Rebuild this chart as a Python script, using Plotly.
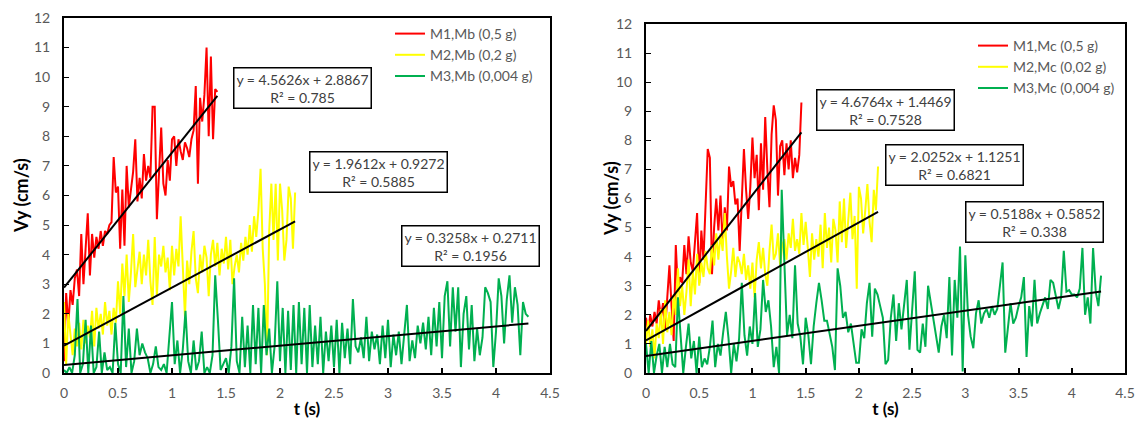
import numpy as np
import plotly.graph_objects as go

# ---------------- data ----------------
DT_RY = 0.02     # sampling step for red / yellow series (s)
DT_G = 0.025     # sampling step for green series (s)

# Left chart (Mb)
mb_m1 = [0.4, 2.7, 1.6, 2.8, 2.3, 3.2, 3.5, 2.6, 4.7, 3.0, 4.2, 5.4, 3.3, 4.7, 3.9, 4.6, 4.2, 4.8, 4.3, 4.8,
         4.7, 5.0, 5.1, 7.3, 6.1, 6.3, 4.2, 6.2, 4.3, 7.0, 5.6, 6.3, 6.8, 7.9, 5.8, 6.6, 5.9, 7.4, 6.5, 7.0,
         6.6, 9.0, 9.0, 5.2, 6.8, 8.3, 6.4, 6.0, 7.2, 6.5, 7.9, 8.0, 7.0, 7.9, 7.5, 7.2, 7.8, 7.6, 7.3, 7.9,
         8.2, 9.7, 6.4, 9.3, 8.5, 9.4, 11.0, 8.0, 10.7, 7.9, 9.6, 9.5]
mb_m2 = [2.4, 0.3, 2.0, 1.2, 0.6, 1.5, 0.9, 1.7, 0.8, 1.8, 1.0, 1.6, 1.2, 2.1, 0.9, 2.2, 1.5, 2.0, 1.3, 2.4,
         1.6, 2.1, 1.3, 2.2, 1.7, 3.1, 2.0, 3.7, 2.6, 4.0, 2.4, 3.4, 4.7, 2.9, 3.5, 4.1, 3.0, 4.0, 3.3, 4.5,
         3.1, 2.3, 4.6, 2.6, 4.0, 3.6, 4.3, 3.4, 3.9, 2.8, 4.3, 3.3, 4.2, 3.6, 5.3, 3.5, 1.9, 3.8, 3.0, 4.1,
         4.8, 3.2, 2.7, 4.0, 3.4, 4.3, 3.9, 2.6, 4.0, 4.5, 3.6, 4.4, 3.3, 4.2, 3.7, 4.6, 3.5, 4.5, 3.0, 3.6,
         4.0, 3.4, 4.4, 3.8, 4.6, 4.0, 5.0, 4.1, 5.3, 4.6, 5.5, 6.9, 4.2, 3.0, 0.6, 4.8, 6.4, 4.5, 6.4, 3.8,
         6.4, 5.5, 3.8, 4.5, 6.3, 5.9, 4.2, 6.1]
mb_m3 = [0.1, 0.0, 0.2, 0.0, 0.6, 2.5, 0.0, 0.3, 1.8, 0.0, 1.6, 0.0, 0.2, 1.4, 0.0, 0.7, 0.1, 0.2, 0.0, 1.7,
         0.3, 0.0, 2.6, 0.2, 1.5, 0.0, 0.4, 1.5, 0.6, 1.0, 0.7, 0.5, 0.0, 0.3, 0.9, 0.2, 0.1, 0.3, 0.0, 1.2,
         2.4, 0.3, 1.1, 0.0, 0.8, 2.1, 0.4, 0.0, 1.1, 0.1, 0.4, 1.4, 0.0, 0.2, 0.0, 0.6, 3.3, 1.8, 0.1, 0.3,
         0.5, 0.0, 0.9, 3.2, 0.4, 0.0, 1.9, 0.2, 1.6, 0.0, 2.3, 0.3, 2.2, 0.0, 2.3, 0.6, 1.5, 0.0, 0.9, 3.1,
         0.4, 2.2, 0.0, 2.1, 0.1, 2.3, 0.0, 2.4, 0.3, 2.2, 0.0, 2.3, 0.2, 1.6, 0.3, 1.9, 0.0, 1.4, 0.4, 1.6,
         0.2, 1.8, 0.0, 1.7, 0.5, 1.5, 0.3, 2.5, 0.9, 0.7, 1.2, 0.5, 1.9, 0.4, 1.4, 0.8, 1.3, 0.3, 1.6, 0.5,
         1.8, 0.2, 1.3, 0.6, 1.4, 0.3, 1.2, 2.3, 0.4, 1.1, 0.5, 1.6, 1.0, 1.7, 0.8, 1.9, 0.6, 2.2, 0.9, 2.4,
         0.5, 2.6, 3.1, 0.9, 2.9, 1.4, 2.9, 0.2, 2.0, 2.6, 0.8, 2.3, 0.4, 1.5, 0.6, 1.2, 2.9, 2.7, 2.4, 0.2,
         1.4, 3.2, 2.6, 1.0, 2.5, 3.3, 1.7, 2.9, 2.3, 0.6, 2.4, 2.0, 1.9]

# Right chart (Mc)
mc_m1 = [1.9, 1.4, 2.0, 1.6, 2.1, 1.7, 2.5, 1.9, 2.4, 1.5, 2.6, 3.7, 2.3, 1.1, 4.4, 2.8, 3.3, 3.1, 4.4, 3.4,
         4.7, 3.8, 3.5, 4.4, 5.5, 3.1, 4.9, 3.9, 5.6, 7.7, 7.4, 3.4, 5.0, 6.0, 4.9, 6.1, 4.4, 5.7, 4.9, 7.1,
         6.4, 6.6, 5.8, 6.0, 4.2, 5.9, 7.7, 6.3, 5.3, 6.4, 8.1, 6.7, 7.5, 5.6, 7.9, 6.3, 8.8, 7.0, 5.7, 8.2,
         9.2, 8.7, 6.1, 7.8, 8.0, 6.8, 7.9, 7.0, 8.0, 6.7, 7.4, 6.9, 7.5, 9.3]
mc_m2 = [1.0, 1.8, 0.9, 1.5, 0.5, 1.7, 1.2, 2.2, 1.0, 2.5, 1.4, 2.1, 1.3, 2.7, 2.0, 3.6, 2.3, 3.0, 2.0, 2.8,
         3.9, 2.3, 3.5, 2.7, 4.1, 3.0, 3.8, 3.3, 4.2, 3.6, 3.4, 4.4, 3.7, 4.8, 3.9, 4.8, 4.2, 5.5, 4.0, 2.9,
         3.5, 4.3, 3.3, 4.0, 3.8, 3.4, 4.1, 3.2, 3.7, 2.9, 3.8, 2.6, 3.9, 4.5, 3.6, 4.3, 3.4, 3.0, 4.2, 5.1,
         3.9, 4.1, 4.8, 3.7, 4.4, 4.6, 3.9, 4.8, 4.3, 5.3, 4.2, 4.6, 4.1, 5.5, 4.4, 5.2, 4.3, 3.3, 4.8, 3.9,
         4.6, 4.0, 5.1, 3.6, 5.5, 4.3, 5.0, 3.8, 5.3, 4.9, 3.8, 5.9, 4.5, 6.0, 4.3, 5.2, 6.2, 4.6, 5.4, 2.9,
         6.4, 6.0, 4.8, 5.6, 6.5, 5.2, 4.5, 6.3, 5.6, 7.1]
mc_m3 = [1.0, 0.0, 1.1, 0.0, 0.6, 1.0, 0.0, 0.9, 0.2, 1.0, 0.3, 0.2, 2.6, 1.1, 0.0, 0.9, 1.7, 0.5, 1.1, 0.0,
         1.25, 0.2, 0.5, 0.3, 0.9, 1.8, 0.2, 1.0, 0.6, 1.4, 2.1, 1.2, 0.0, 1.0, 0.4, 1.2, 3.1, 1.3, 0.6, 1.6,
         1.0, 2.75, 0.9, 1.5, 3.2, 2.1, 2.5, 1.6, 0.2, 0.9, 0.0, 6.3, 3.9, 1.3, 2.0, 1.2, 3.7, 1.7, 1.25, 0.3,
         1.9, 1.3, 0.3, 1.6, 2.4, 3.1, 2.5, 1.8, 1.8, 1.4, 0.9, 0.1, 3.6, 3.0, 1.9, 2.1, 1.4, 1.7, 1.1, 0.35,
         0.35, 1.5, 1.2, 2.4, 3.1, 1.25, 2.9, 2.7, 2.3, 1.9, 0.3, 0.45, 1.9, 2.7, 1.1, 2.4, 1.5, 2.3, 3.2, 0.8,
         2.0, 3.5, 0.8, 0.7, 1.7, 0.9, 3.0, 2.4, 1.9, 1.2, 0.7, 1.6, 2.0, 1.2, 3.3, 0.6, 3.2, 1.9, 4.35, 0.05,
         4.05, 2.0, 1.25, 0.85, 2.05, 2.5, 1.7, 2.05, 2.2, 1.9, 2.3, 2.0, 2.2, 3.0, 3.8, 0.7, 1.6, 2.4, 1.7, 1.9,
         2.3, 2.6, 3.3, 0.55, 2.3, 1.6, 3.2, 1.7, 2.05, 2.3, 2.6, 2.2, 3.2, 3.1, 2.6, 2.2, 2.6, 4.2, 2.8, 2.85,
         2.7, 2.7, 2.6, 2.9, 4.3, 2.0, 2.6, 1.7, 4.3, 2.8, 2.3, 3.35]

names_mb = ["M1,Mb (0,5 g)", "M2,Mb (0,2 g)", "M3,Mb (0,004 g)"]
names_mc = ["M1,Mc (0,5 g)", "M2,Mc (0,02 g)", "M3,Mc (0,004 g)"]

# linear trend lines (slope, intercept) and R² labels
fit_mb_slope = [4.5626, 1.9612, 0.3258]
fit_mb_icpt = [2.8867, 0.9272, 0.2711]
fit_mb_r2 = ["0.785", "0.5885", "0.1956"]
fit_mc_slope = [4.6764, 2.0252, 0.5188]
fit_mc_icpt = [1.4469, 1.1251, 0.5852]
fit_mc_r2 = ["0.7528", "0.6821", "0.338"]

x_ticks = [0, 0.5, 1, 1.5, 2, 2.5, 3, 3.5, 4, 4.5]
y_ticks = list(range(0, 13))
x_title = "t (s)"
y_title = "Vy (cm/s)"

# ---------------- figure ----------------
W, H = 1141, 428
COLORS = ["#FF0000", "#FFFF00", "#00B050"]
FONT = "Lato, 'Open Sans', sans-serif"


def tgrid(vals, dt):
    return np.round(np.arange(len(vals)) * dt, 4)


fig = go.Figure()

panels = [
    ("x", "y", "legend", [mb_m1, mb_m2, mb_m3], names_mb, fit_mb_slope, fit_mb_icpt),
    ("x2", "y2", "legend2", [mc_m1, mc_m2, mc_m3], names_mc, fit_mc_slope, fit_mc_icpt),
]

for xa, ya, lg, series, names, slopes, icpts in panels:
    for i, (vals, nm) in enumerate(zip(series, names)):
        dt = DT_G if i == 2 else DT_RY
        fig.add_trace(go.Scatter(
            x=tgrid(vals, dt), y=vals, mode="lines", name=nm,
            line=dict(color=COLORS[i], width=2), xaxis=xa, yaxis=ya, legend=lg))
    for i, vals in enumerate(series):
        dt = DT_G if i == 2 else DT_RY
        tt = tgrid(vals, dt)
        xs = np.array([0.0, tt[-1]])
        fig.add_trace(go.Scatter(
            x=xs, y=icpts[i] + slopes[i] * xs, mode="lines", showlegend=False,
            line=dict(color="#000000", width=2), xaxis=xa, yaxis=ya, hoverinfo="skip"))


def px(x):
    return x / W


def py(y):
    return 1 - y / H


axis_common = dict(
    range=[0, 4.5], tickvals=x_ticks, ticks="inside", ticklen=5, tickwidth=2, tickcolor="#000000",
    showline=True, linecolor="#000000", linewidth=2, mirror=True, showgrid=False, zeroline=False,
    automargin=False,
    tickfont=dict(family=FONT, size=14, color="#595959"), ticklabelstandoff=6,
    title=dict(text=f"<b>{x_title}</b>", font=dict(family=FONT, size=17, color="#000000"), standoff=3),
)
yaxis_common = dict(
    range=[0, 12], tickvals=y_ticks, ticks="inside", ticklen=5, tickwidth=1, tickcolor="#000000",
    showline=True, linecolor="#000000", linewidth=2, mirror=True, showgrid=False, zeroline=False,
    automargin=False,
    tickfont=dict(family=FONT, size=14, color="#595959"), ticklabelstandoff=9,
)

fig.update_layout(
    width=W, height=H, margin=dict(l=0, r=0, t=0, b=0, autoexpand=False),
    paper_bgcolor="white", plot_bgcolor="white",
    font=dict(family=FONT, size=14, color="#595959"),
    xaxis=dict(domain=[px(64), px(550)], anchor="y", **axis_common),
    yaxis=dict(domain=[py(373), py(18)], anchor="x", **yaxis_common),
    xaxis2=dict(domain=[px(646), px(1125)], anchor="y2", **axis_common),
    yaxis2=dict(domain=[py(373), py(24)], anchor="x2", **yaxis_common),
    legend=dict(x=px(390), y=py(18), xanchor="left", yanchor="top", bgcolor="rgba(0,0,0,0)",
                font=dict(family=FONT, size=14, color="#595959"), tracegroupgap=0, itemwidth=30),
    legend2=dict(x=px(973), y=py(30), xanchor="left", yanchor="top", bgcolor="rgba(0,0,0,0)",
                 font=dict(family=FONT, size=14, color="#595959"), tracegroupgap=0, itemwidth=30),
    showlegend=True,
)

# vertical axis titles (rotated text, centred at pixel positions)
for cx, cy in [(21, 196), (611, 199)]:
    fig.add_annotation(
        x=px(cx), y=py(cy), xref="paper", yref="paper", xanchor="center", yanchor="middle",
        text=f"<b>{y_title}</b>", textangle=-90, showarrow=False,
        font=dict(family=FONT, size=18, color="#000000"),
    )

# equation boxes (centre positions in pixels)
boxes_mb = [(302.5, 88.5), (378.5, 171.5), (470, 246)]
boxes_mc = [(885, 110.5), (954.5, 164.5), (1034.5, 222)]
for boxes, slopes, icpts, r2s in [(boxes_mb, fit_mb_slope, fit_mb_icpt, fit_mb_r2),
                                  (boxes_mc, fit_mc_slope, fit_mc_icpt, fit_mc_r2)]:
    for (cx, cy), s, b, r in zip(boxes, slopes, icpts, r2s):
        fig.add_annotation(
            x=px(cx), y=py(cy), xref="paper", yref="paper", xanchor="center", yanchor="middle",
            text=f"y = {s:.4f}x + {b:.4f}<br>R² = {r}", showarrow=False, align="center",
            font=dict(family=FONT, size=14, color="#404040"),
            bordercolor="#000000", borderwidth=1.5, borderpad=2, bgcolor="white", width=132,
        )

fig.write_html("out.html")
